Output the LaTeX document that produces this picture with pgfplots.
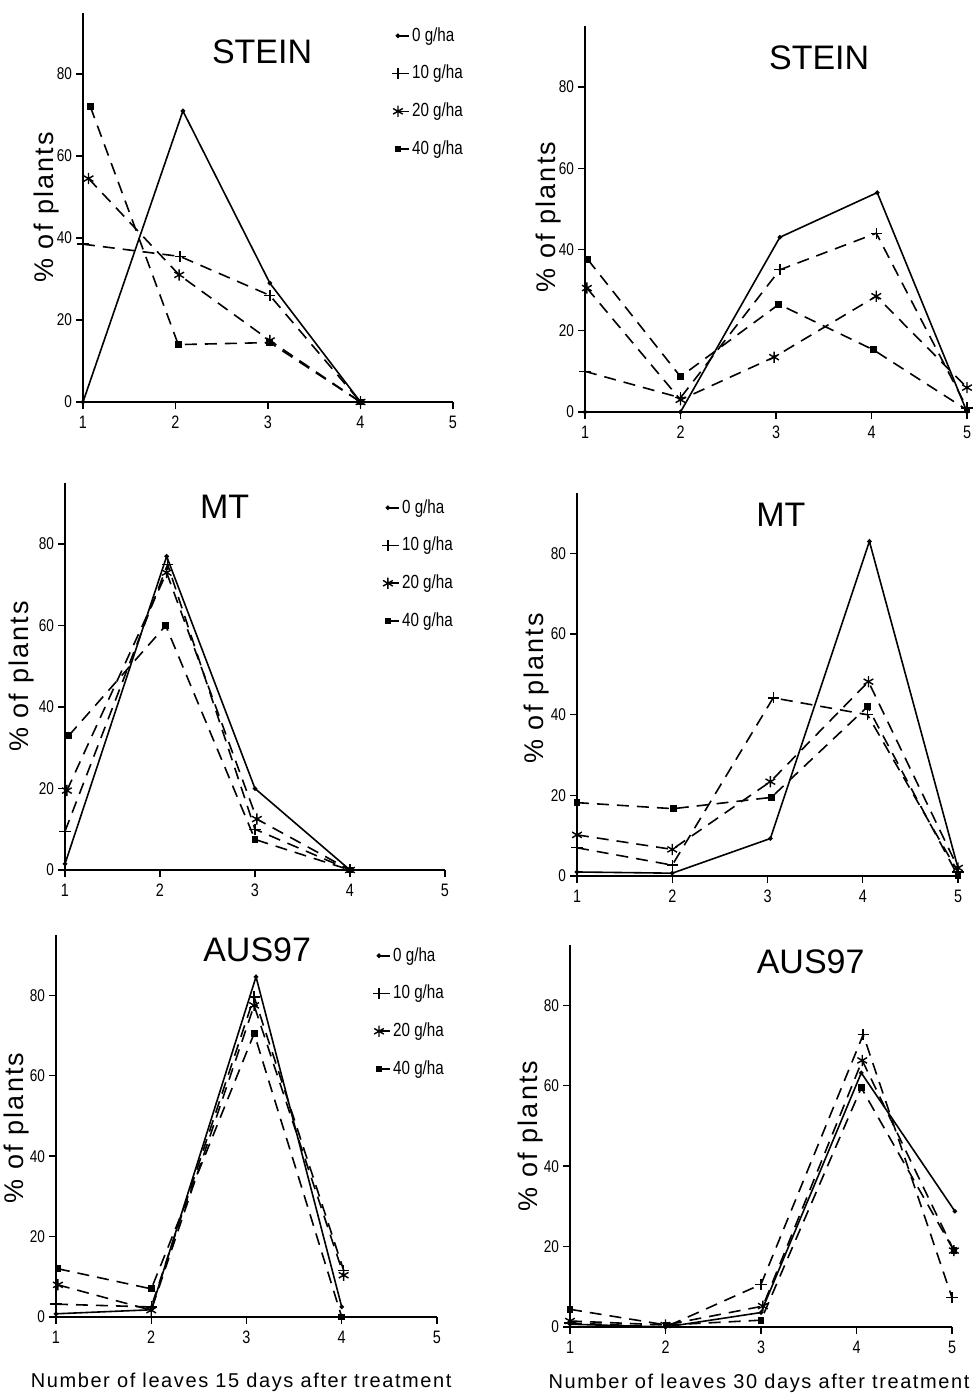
\documentclass[border=0pt]{standalone}
\usepackage{pgfplots}
\pgfplotsset{compat=1.18}
\usepackage{fontspec}
\setmainfont{Liberation Sans}
\newfontfamily\narrowf[FakeStretch=0.8]{Liberation Sans}
\newfontfamily\spacedf[LetterSpace=8]{Liberation Sans}

\pgfplotsset{
  panel/.style={
    scale only axis, anchor=south west, clip=false,
    axis x line=bottom, axis y line=left,
    axis line style={-, line width=0.8pt, black},
    xmin=1, xmax=5, ymin=0, ymax=95,
    xtick={1,2,3,4,5}, ytick={0,20,40,60,80},
    tick align=outside, major tick length=3.5pt,
    tick style={line width=0.7pt, black},
    /pgf/number format/assume math mode=true,
    xticklabel style={font=\narrowf\fontsize{9}{10}\selectfont},
    yticklabel style={font=\narrowf\fontsize{8.5}{10}\selectfont, xshift=1.5pt},
    ylabel={\% of plants},
    ylabel style={font=\spacedf\fontsize{13.5}{15}\selectfont, anchor=center, yshift=2pt},
    title style={font=\fontsize{17}{20}\selectfont, anchor=center, yshift=-6pt},
    legend cell align=left,
    legend image code/.code={\draw[mark repeat=2,mark phase=1,##1,solid] plot coordinates {(0cm,0cm) (0.2cm,0cm)};},
    legend style={draw=none, fill=none, anchor=north west, inner sep=0pt,
      font=\narrowf\fontsize{9.5}{10}\selectfont, row sep=8.5pt,
      nodes={inner sep=1pt}},
  },
  s0/.style={black, line width=0.8pt, solid, mark=*, mark size=0.7pt},
  s10/.style={black, line width=0.8pt, dash pattern=on 6pt off 4pt, mark=+, mark size=2.8pt, mark options={solid, line width=0.7pt}},
  s20/.style={black, line width=0.8pt, dash pattern=on 6pt off 4pt, mark=asterisk, mark size=2.8pt, mark options={solid, line width=0.7pt}},
  s40/.style={black, line width=0.8pt, dash pattern=on 6pt off 4pt, mark=square*, mark size=1.3pt, mark options={solid}},
}

\begin{document}
\begin{tikzpicture}
\path[use as bounding box] (0pt,0pt) rectangle (489pt,-699pt);

% ---------- Top left: STEIN, 15 days
\begin{axis}[panel, at={(41.5pt,-201pt)}, width=185pt, height=194.75pt,
  title={STEIN}, title style={at={(axis description cs:0.484,0.90)}},
  ylabel style={at={(axis description cs:-0.089,0.50)}},
  legend style={at={(axis description cs:0.835,0.968)}}]
\addplot[s0] coordinates {(1,0) (2.08,71) (3.02,29) (4,0)};
\addlegendentry{0 g/ha}
\addplot[s10] coordinates {(1,38.5) (2.05,35.5) (3.02,26) (4,0)};
\addlegendentry{10 g/ha}
\addplot[s20] coordinates {(1.06,54.5) (2.04,31) (3.02,15) (4,0)};
\addlegendentry{20 g/ha}
\addplot[s40] coordinates {(1.08,72) (2.03,14) (3.02,14.5) (4,0)};
\addlegendentry{40 g/ha}
\end{axis}

% ---------- Top right: STEIN, 30 days
\begin{axis}[panel, at={(292.5pt,-206pt)}, width=191pt, height=193pt,
  title={STEIN}, title style={at={(axis description cs:0.613,0.917)}},
  ylabel style={at={(axis description cs:-0.086,0.505)}}]
\addplot[s0] coordinates {(1,0) (2,0) (3.04,43) (4.06,54) (5,0)};
\addplot[s10] coordinates {(1,10) (2,3.5) (3.04,35) (4.05,44) (5,1)};
\addplot[s20] coordinates {(1.02,30.5) (2,3) (2.98,13.5) (4.05,28.5) (5,6)};
\addplot[s40] coordinates {(1.03,37.5) (2,8.7) (3.03,26.5) (4.02,15.3) (5,0.5)};
\end{axis}

% ---------- Middle left: MT, 15 days
\begin{axis}[panel, at={(32.5pt,-435pt)}, width=190pt, height=193.5pt,
  title={MT}, title style={at={(axis description cs:0.42,0.938)}},
  ylabel style={at={(axis description cs:-0.105,0.50)}},
  legend style={at={(axis description cs:0.834,0.964)}}]
\addplot[s0] coordinates {(1,1.5) (2.07,77) (3,20) (4,0)};
\addlegendentry{0 g/ha}
\addplot[s10] coordinates {(1,9.5) (2.08,75) (3,10) (4,0)};
\addlegendentry{10 g/ha}
\addplot[s20] coordinates {(1.02,19.5) (2.07,73) (3.02,12.5) (4,0)};
\addlegendentry{20 g/ha}
\addplot[s40] coordinates {(1.04,33) (2.06,60) (3,7.5) (4,0)};
\addlegendentry{40 g/ha}
\end{axis}

% ---------- Middle right: MT, 30 days
\begin{axis}[panel, at={(288.5pt,-438pt)}, width=190.5pt, height=191.5pt,
  title={MT}, title style={at={(axis description cs:0.535,0.943)}},
  ylabel style={at={(axis description cs:-0.097,0.49)}}]
\addplot[s0] coordinates {(1,1) (2,0.7) (3.03,9.3) (4.07,83) (5,2)};
\addplot[s10] coordinates {(1,7) (2,2.7) (3.06,44.2) (4.05,40) (5,1)};
\addplot[s20] coordinates {(1,10.2) (2,6.6) (3.03,23.4) (4.06,48.2) (5,2)};
\addplot[s40] coordinates {(1,18.2) (2.01,16.7) (3.04,19.5) (4.05,42) (5,0)};
\end{axis}

% ---------- Bottom left: AUS97, 15 days
\begin{axis}[panel, at={(28pt,-658.5pt)}, width=190.5pt, height=191pt,
  title={AUS97}, title style={at={(axis description cs:0.528,0.96)}},
  ylabel style={at={(axis description cs:-0.092,0.495)}},
  xlabel={Number of leaves 15 days after treatment},
  xlabel style={font=\spacedf\fontsize{10}{12}\selectfont, at={(axis description cs:0.486,-0.17)}, anchor=center},
  legend style={at={(axis description cs:0.832,0.974)}}]
\addplot[s0] coordinates {(1,0.8) (2,1.8) (3.1,84.6) (4,2.5)};
\addlegendentry{0 g/ha}
\addplot[s10] coordinates {(1,3.2) (2,2.5) (3.08,79.6) (4.02,11.6)};
\addlegendentry{10 g/ha}
\addplot[s20] coordinates {(1.02,8) (2,1.7) (3.08,77.5) (4.02,10.4)};
\addlegendentry{20 g/ha}
\addplot[s40] coordinates {(1.02,12) (2,7) (3.08,70.5) (4,0)};
\addlegendentry{40 g/ha}
\end{axis}

% ---------- Bottom right: AUS97, 30 days
\begin{axis}[panel, at={(285pt,-663.5pt)}, width=191pt, height=191pt,
  title={AUS97}, title style={at={(axis description cs:0.63,0.955)}},
  ylabel style={at={(axis description cs:-0.092,0.50)}},
  xlabel={Number of leaves 30 days after treatment},
  xlabel style={font=\spacedf\fontsize{10}{12}\selectfont, at={(axis description cs:0.495,-0.147)}, anchor=center}]
\addplot[s0] coordinates {(1,0.7) (2,0) (3,3.6) (4.05,63.2) (5.03,28.8)};
\addplot[s10] coordinates {(1,1) (2,0) (3,10.6) (4.07,72.7) (5,7.3)};
\addplot[s20] coordinates {(1,1.5) (2,0.5) (3.02,5.2) (4.06,66.3) (5.02,19)};
\addplot[s40] coordinates {(1,4.4) (2.01,0.5) (3,1.7) (4.05,59.5) (5.02,19)};
\end{axis}
\end{tikzpicture}
\end{document}
